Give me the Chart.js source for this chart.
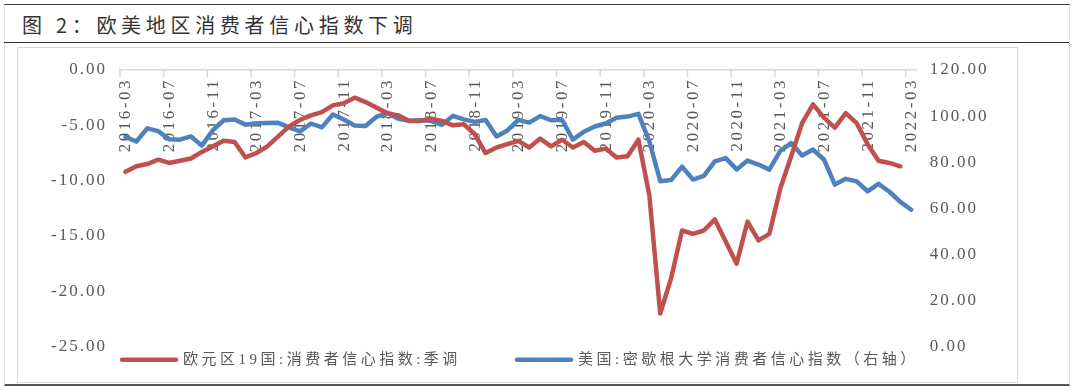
<!DOCTYPE html>
<html lang="zh-CN">
<head>
<meta charset="utf-8">
<title>欧美地区消费者信心指数下调</title>
<script src="https://cdn.jsdelivr.net/npm/chart.js@4.4.1/dist/chart.umd.min.js"></script>
<style>
  html, body { margin: 0; padding: 0; background: #fff; }
  body { width: 1080px; height: 390px; position: relative; overflow: hidden; }
  .frame {
    position: absolute; left: 4px; top: 4px; width: 1064px; height: 379px;
    border-top: 1.5px solid #3a3a3a; border-bottom: 2px solid #555;
    border-left: 1px dotted #c4c4c4; border-right: 1px dotted #c4c4c4;
  }
  .title-rule { position: absolute; left: 4px; top: 42px; width: 1065px; height: 0; border-top: 1.5px solid #333; }
  .title {
    position: absolute; left: 22px; top: 13px; margin: 0;
    font: 20px/24px "Noto Sans CJK SC", sans-serif; letter-spacing: 4.7px; color: #333; font-weight: normal;
  }
  .chart-box { position: absolute; left: 17px; top: 47px; width: 999px; height: 334px; border: 1.5px solid #d9d9d9; }
  #chart { position: absolute; left: 0; top: 0; }
</style>
</head>
<body>
<div class="frame"></div>
<h1 class="title">图 2：欧美地区消费者信心指数下调</h1>
<div class="title-rule"></div>
<div class="chart-box"></div>
<canvas id="chart" width="1080" height="390"></canvas>
<script>
'use strict';

const months = [
  '2016-03', '2016-04', '2016-05', '2016-06', '2016-07', '2016-08', '2016-09', '2016-10', '2016-11', '2016-12',
  '2017-01', '2017-02', '2017-03', '2017-04', '2017-05', '2017-06', '2017-07', '2017-08', '2017-09', '2017-10', '2017-11', '2017-12',
  '2018-01', '2018-02', '2018-03', '2018-04', '2018-05', '2018-06', '2018-07', '2018-08', '2018-09', '2018-10', '2018-11', '2018-12',
  '2019-01', '2019-02', '2019-03', '2019-04', '2019-05', '2019-06', '2019-07', '2019-08', '2019-09', '2019-10', '2019-11', '2019-12',
  '2020-01', '2020-02', '2020-03', '2020-04', '2020-05', '2020-06', '2020-07', '2020-08', '2020-09', '2020-10', '2020-11', '2020-12',
  '2021-01', '2021-02', '2021-03', '2021-04', '2021-05', '2021-06', '2021-07', '2021-08', '2021-09', '2021-10', '2021-11', '2021-12',
  '2022-01', '2022-02', '2022-03',
];

// 欧元区19国 消费者信心指数（季调），左轴，到 2022-02
const euroConfidence = [
  -9.2, -8.7, -8.5, -8.1, -8.4, -8.2, -8.0, -7.4, -6.9, -6.4,
  -6.5, -7.9, -7.5, -6.9, -6.0, -5.1, -4.5, -4.1, -3.8, -3.2, -3.0, -2.5,
  -2.9, -3.4, -3.9, -4.1, -4.6, -4.6, -4.4, -4.6, -5.0, -4.9, -5.8, -7.5,
  -7.0, -6.7, -6.4, -7.0, -6.2, -6.9, -6.3, -7.0, -6.5, -7.3, -7.1, -7.9,
  -7.8, -6.3, -11.3, -22.0, -18.8, -14.5, -14.8, -14.5, -13.5, -15.5, -17.5, -13.7,
  -15.4, -14.8, -10.7, -7.8, -4.8, -3.1, -4.3, -5.2, -3.9, -4.8, -6.7, -8.2,
  -8.4, -8.7,
];

// 美国 密歇根大学消费者信心指数，右轴
const usMichigan = [
  91.0, 89.0, 94.7, 93.5, 90.0, 89.8, 91.2, 87.2, 93.8, 98.2,
  98.5, 96.3, 96.9, 97.0, 97.1, 95.1, 93.4, 96.8, 95.1, 100.7, 98.5, 95.9,
  95.7, 99.7, 101.4, 98.8, 98.0, 98.2, 97.9, 96.2, 100.1, 98.6, 97.5, 98.3,
  91.2, 93.8, 98.4, 97.2, 100.0, 98.2, 98.4, 89.8, 93.2, 95.5, 96.8, 99.3,
  99.8, 101.0, 89.1, 71.8, 72.3, 78.1, 72.5, 74.1, 80.4, 81.8, 76.9, 80.7,
  79.0, 76.8, 84.9, 88.3, 82.9, 85.5, 81.2, 70.3, 72.8, 71.7, 67.4, 70.6,
  67.2, 62.8, 59.4,
];

const seriesNames = ['欧元区19国:消费者信心指数:季调', '美国:密歇根大学消费者信心指数（右轴）'];
const seriesColors = ['#C0504D', '#4F81BD'];
const LABEL_EVERY = 4;

const TEXT_COLOR = '#595959';
const AXIS_COLOR = '#d9d9d9';
const FONT_FAMILY = '"Liberation Serif", "Noto Sans CJK SC", serif';
const LEGEND_OFFSETS = [2, 397]; // item starts, from the plot's left edge

// month labels sit under the top axis line, inside the plot, like the Excel original
const monthAxisPlugin = {
  id: 'monthAxis',
  beforeDatasetsDraw(chart) {
    const { ctx, chartArea, scales: { x } } = chart;
    const half = (x.getPixelForValue(1) - x.getPixelForValue(0)) / 2;
    ctx.save();
    ctx.strokeStyle = AXIS_COLOR;
    ctx.lineWidth = 1.5;
    ctx.fillStyle = TEXT_COLOR;
    ctx.font = `17px ${FONT_FAMILY}`;
    ctx.letterSpacing = '2.5px';
    ctx.textAlign = 'right';
    ctx.textBaseline = 'middle';
    for (let i = 0; i < months.length; i += LABEL_EVERY) {
      const px = x.getPixelForValue(i);
      ctx.beginPath();
      ctx.moveTo(px - half, chartArea.top);
      ctx.lineTo(px - half, chartArea.top + 7);
      ctx.stroke();
      ctx.save();
      ctx.translate(px + 0.5, chartArea.top + 8);
      ctx.rotate(-Math.PI / 2);
      ctx.fillText(months[i], 0, 0);
      ctx.restore();
    }
    ctx.restore();
  },
};

// legend row below the plot: line sample + text
const legendRowPlugin = {
  id: 'legendRow',
  afterDraw(chart) {
    const { ctx, chartArea } = chart;
    const y = chartArea.bottom + 13;
    ctx.save();
    ctx.font = `15px ${FONT_FAMILY}`;
    ctx.letterSpacing = '3.5px';
    ctx.textAlign = 'left';
    ctx.textBaseline = 'middle';
    chart.data.datasets.forEach((ds, i) => {
      const start = chartArea.left + LEGEND_OFFSETS[i];
      ctx.strokeStyle = ds.borderColor;
      ctx.lineWidth = 4.5;
      ctx.lineCap = 'round';
      ctx.beginPath();
      ctx.moveTo(start, y);
      ctx.lineTo(start + 54, y);
      ctx.stroke();
      ctx.fillStyle = TEXT_COLOR;
      ctx.fillText(ds.label, start + 61, y);
    });
    ctx.restore();
  },
};

const spacingPlugin = {
  id: 'spacing',
  beforeDraw(chart) {
    chart.ctx.letterSpacing = '2px';
  },
};

function valueTick(value) {
  return Number(value).toFixed(2);
}

function lineDataset(label, data, axisId, color) {
  return {
    label,
    data,
    yAxisID: axisId,
    borderColor: color,
    borderWidth: 4.5,
    borderCapStyle: 'round',
    borderJoinStyle: 'round',
    pointRadius: 0,
    tension: 0,
    fill: false,
  };
}

function buildChart() {
  const ctx = document.getElementById('chart').getContext('2d');
  return new Chart(ctx, {
    type: 'line',
    data: {
      labels: months,
      datasets: [
        lineDataset(seriesNames[0], euroConfidence, 'y', seriesColors[0]),
        lineDataset(seriesNames[1], usMichigan, 'y1', seriesColors[1]),
      ],
    },
    options: {
      responsive: false,
      devicePixelRatio: 1,
      animation: false,
      layout: { padding: { left: 50, right: 83.3, top: 70, bottom: 43.3 } },
      plugins: { legend: { display: false }, tooltip: { enabled: false } },
      scales: {
        x: {
          position: 'top',
          offset: true,
          ticks: { display: false },
          grid: { display: true, drawOnChartArea: false, drawTicks: false, color: 'rgba(0,0,0,0)' },
          border: { display: true, color: AXIS_COLOR, width: 1.5 },
          afterFit(scale) { scale.height = 0; },
        },
        y: {
          position: 'left',
          min: -25,
          max: 0,
          ticks: { stepSize: 5, padding: 13, color: TEXT_COLOR, font: { family: FONT_FAMILY, size: 17 }, callback: valueTick },
          grid: { display: false, drawTicks: false },
          border: { display: false },
          afterFit(scale) { scale.width = 70; },
        },
        y1: {
          position: 'right',
          min: 0,
          max: 120,
          ticks: { stepSize: 20, padding: 13, color: TEXT_COLOR, font: { family: FONT_FAMILY, size: 17 }, callback: valueTick },
          grid: { display: false, drawTicks: false },
          border: { display: false },
          afterFit(scale) { scale.width = 80; },
        },
      },
    },
    plugins: [spacingPlugin, monthAxisPlugin, legendRowPlugin],
  });
}

buildChart();
</script>
</body>
</html>
